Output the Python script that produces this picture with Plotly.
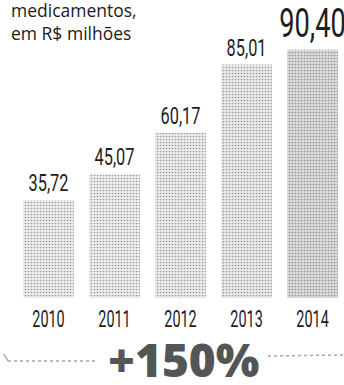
import plotly.graph_objects as go

years = ["2010", "2011", "2012", "2013", "2014"]
values = [35.72, 45.07, 60.17, 85.01, 90.40]
value_labels = ["35,72", "45,07", "60,17", "85,01", "90,40"]
title_text = "medicamentos,<br>em R$ milhões"
growth_text = "+150%"

label_sizes = [24, 24, 24, 24, 40]
bar_colors = ["#eeeeee", "#eeeeee", "#ececec", "#eaeaea", "#dadada"]
dot_colors = ["#9c9c9c", "#9c9c9c", "#979797", "#949494", "#727272"]

DIN = "Roboto"

fig = go.Figure()
fig.add_trace(go.Bar(
    x=years,
    y=values,
    width=0.77,
    marker=dict(
        color=bar_colors,
        line=dict(width=0),
        pattern=dict(shape=".", fgcolor=dot_colors, size=3, solidity=0.25),
    ),
    text=value_labels,
    textposition="outside",
    textfont=dict(family=DIN, size=label_sizes, color="#1e1e1e"),
    constraintext="none",
    cliponaxis=False,
    hoverinfo="skip",
))

W, H = 344, 385
plot_bottom = 298

fig.update_layout(
    width=W, height=H,
    margin=dict(l=0, r=0, t=0, b=H - plot_bottom),
    paper_bgcolor="white",
    plot_bgcolor="white",
    showlegend=False,
    xaxis=dict(
        type="category",
        range=[-0.735, 4.477],
        showgrid=False, zeroline=False, showline=False,
        ticks="", ticklabelstandoff=4,
        tickfont=dict(family=DIN, size=24, color="#1e1e1e"),
        fixedrange=True,
    ),
    yaxis=dict(
        range=[0, 108.5],
        visible=False,
        fixedrange=True,
    ),
    annotations=[
        dict(
            text=title_text, xref="paper", yref="paper",
            x=9 / W, y=1.0, xanchor="left", yanchor="top",
            align="left", showarrow=False, yshift=4,
            font=dict(family="Open Sans", size=17.5, color="#1a1a1a"),
        ),
        dict(
            text=growth_text, xref="paper", yref="paper",
            x=184 / W, y=(plot_bottom - 359) / plot_bottom,
            xanchor="center", yanchor="middle", showarrow=False,
            font=dict(family="Open Sans", size=46, color="#555555", weight=800),
        ),
    ],
    shapes=[
        dict(type="line", xref="paper", yref="paper",
             x0=8 / W, x1=97 / W,
             y0=(plot_bottom - 361) / plot_bottom, y1=(plot_bottom - 361) / plot_bottom,
             line=dict(color="#a8a8a8", width=1.5, dash="dot")),
        dict(type="line", xref="paper", yref="paper",
             x0=4 / W, x1=8 / W,
             y0=(plot_bottom - 354) / plot_bottom, y1=(plot_bottom - 361) / plot_bottom,
             line=dict(color="#a8a8a8", width=1.5)),
        dict(type="line", xref="paper", yref="paper",
             x0=268 / W, x1=1.0,
             y0=(plot_bottom - 356) / plot_bottom, y1=(plot_bottom - 355) / plot_bottom,
             line=dict(color="#a8a8a8", width=1.5, dash="dot")),
    ],
)

# Condense the numeric labels horizontally (the original uses a condensed face)
post = """
var gd = document.getElementById('{plot_id}');
function squeeze(sel, f){
  gd.querySelectorAll(sel).forEach(function(t){
    var w = t.getComputedTextLength();
    t.setAttribute('textLength', (w * f).toFixed(1));
    t.setAttribute('lengthAdjust', 'spacingAndGlyphs');
  });
}
squeeze('g.bars g.point text, g.bars text.bartext', 0.68);
squeeze('g.xtick text', 0.6);
"""

fig.write_html("out.html", post_script=post)
